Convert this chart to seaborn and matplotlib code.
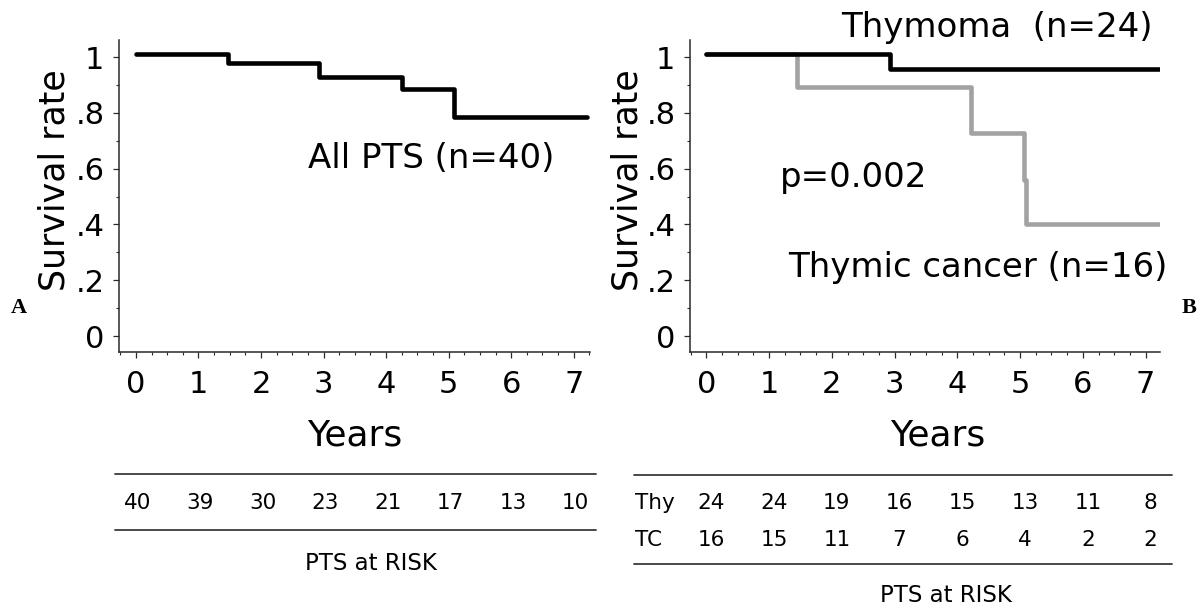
import numpy as np
import pandas as pd
import matplotlib
matplotlib.use("Agg")
import matplotlib.pyplot as plt
import seaborn as sns
from matplotlib.lines import Line2D
from matplotlib.transforms import blended_transform_factory
from matplotlib.ticker import FixedLocator, MultipleLocator

# ---------------- data ----------------
all_years = [0.0, 1.47, 2.93, 4.26, 5.09, 7.21]
all_surv = [1.01, 0.98, 0.93, 0.885, 0.785, 0.785]

thy_years = [0.0, 2.93, 7.21]
thy_surv = [1.01, 0.957, 0.957]

tc_years = [0.0, 1.45, 4.22, 5.07, 5.10, 7.21]
tc_surv = [1.01, 0.892, 0.727, 0.56, 0.40, 0.40]

risk_years = [0, 1, 2, 3, 4, 5, 6, 7]
risk_all = [40, 39, 30, 23, 21, 17, 13, 10]
risk_thy = [24, 24, 19, 16, 15, 13, 11, 8]
risk_tc = [16, 15, 11, 7, 6, 4, 2, 2]

x_ticks = [0, 1, 2, 3, 4, 5, 6, 7]
x_tick_labels = ["0", "1", "2", "3", "4", "5", "6", "7"]
y_ticks = [0, 0.2, 0.4, 0.6, 0.8, 1.0]
y_tick_labels = ["0", ".2", ".4", ".6", ".8", "1"]

# ---------------- style ----------------
sns.set_theme(style="ticks")
plt.rcParams["font.family"] = ["DejaVu Sans"]
plt.rcParams["text.color"] = "black"
plt.rcParams["axes.labelcolor"] = "black"
plt.rcParams["xtick.labelcolor"] = "black"
plt.rcParams["ytick.labelcolor"] = "black"

W, H = 1200, 607
fig = plt.figure(figsize=(W / 100, H / 100), dpi=100)

axA = fig.add_axes([119 / W, (H - 352) / H, 471 / W, 312 / H])
axB = fig.add_axes([690 / W, (H - 352) / H, 470 / W, 312 / H])

df_all = pd.DataFrame({"Years": all_years, "Survival": all_surv})
df_thy = pd.DataFrame({"Years": thy_years, "Survival": thy_surv})
df_tc = pd.DataFrame({"Years": tc_years, "Survival": tc_surv})

lw = 3.3
sns.lineplot(data=df_all, x="Years", y="Survival", ax=axA, color="black",
             linewidth=lw, drawstyle="steps-post", estimator=None, sort=False)
sns.lineplot(data=df_tc, x="Years", y="Survival", ax=axB, color="#a2a2a2",
             linewidth=lw, drawstyle="steps-post", estimator=None, sort=False)
sns.lineplot(data=df_thy, x="Years", y="Survival", ax=axB, color="black",
             linewidth=lw, drawstyle="steps-post", estimator=None, sort=False)

spine_col = "#2a2a2a"
for ax, xlim, xl_x, yl_x in [(axA, (-0.27, 7.26), 0.501, -0.138),
                             (axB, (-0.26, 7.23), 0.528, -0.132)]:
    ax.set_xlim(*xlim)
    ax.set_ylim(-0.057, 1.061)
    ax.xaxis.set_major_locator(FixedLocator(x_ticks))
    ax.set_xticklabels(x_tick_labels)
    ax.xaxis.set_minor_locator(MultipleLocator(0.25))
    ax.yaxis.set_major_locator(FixedLocator(y_ticks))
    ax.set_yticklabels(y_tick_labels)
    ax.yaxis.set_minor_locator(MultipleLocator(0.1))
    for s in ["top", "right"]:
        ax.spines[s].set_visible(False)
    for s in ["left", "bottom"]:
        ax.spines[s].set_color(spine_col)
        ax.spines[s].set_linewidth(1.1)
    ax.tick_params(axis="x", which="major", direction="out", length=4.5,
                   width=0.9, color=spine_col, labelcolor="black",
                   labelsize=22, pad=8.5)
    ax.tick_params(axis="y", which="major", direction="out", length=4.5,
                   width=0.9, color=spine_col, labelcolor="black",
                   labelsize=22, pad=6.0)
    ax.tick_params(which="minor", direction="out", length=2.2, width=0.8,
                   color=spine_col)
    ax.set_xlabel("Years", fontsize=26, color="black")
    ax.xaxis.set_label_coords(xl_x, -0.301)
    ax.xaxis.label.set_va("baseline")
    ax.set_ylabel("Survival rate", fontsize=25, color="black")
    ax.yaxis.set_label_coords(yl_x, 0.551)
    ax.yaxis.label.set_va("center")
    ax.yaxis.label.set_ha("center")
    ax.set_facecolor("white")

# annotations
axA.text(4.72, 0.602, "All PTS (n=40)", fontsize=24.5, ha="center",
         va="baseline", clip_on=False, color="black")
axB.text(4.63, 1.072, "Thymoma  (n=24)", fontsize=24.5, ha="center",
         va="baseline", clip_on=False, color="black")
axB.text(2.35, 0.534, "p=0.002", fontsize=24.5, ha="center", va="baseline",
         color="black")
axB.text(4.32, 0.211, "Thymic cancer (n=16)", fontsize=24.5, ha="center",
         va="baseline", clip_on=False, color="black")

# panel letters
fig.text(19 / W, 1 - 308 / H, "A", family="Liberation Serif",
         fontweight="bold", fontsize=16, ha="center", va="center",
         color="black")
fig.text(1189 / W, 1 - 308 / H, "B", family="Liberation Serif",
         fontweight="bold", fontsize=16, ha="center", va="center",
         color="black")

# ---------------- at-risk tables ----------------
tbl_col = "#3a3a3a"
for (x0, x1, y) in [(115, 596, 474), (115, 596, 530),
                    (634, 1172, 475), (634, 1172, 564)]:
    fig.add_artist(Line2D([x0 / W, x1 / W], [1 - y / H, 1 - y / H],
                          color=tbl_col, linewidth=1.3))

trA = blended_transform_factory(axA.transData, fig.transFigure)
trB = blended_transform_factory(axB.transData, fig.transFigure)
for yr, n in zip(risk_years, risk_all):
    axA.text(yr + 0.03, 1 - 503 / H, str(n), transform=trA, fontsize=15.5,
             ha="center", va="center", clip_on=False, color="black")
for yr, n in zip(risk_years, risk_thy):
    axB.text(yr + 0.08, 1 - 503 / H, str(n), transform=trB, fontsize=15.5,
             ha="center", va="center", clip_on=False, color="black")
for yr, n in zip(risk_years, risk_tc):
    axB.text(yr + 0.08, 1 - 540 / H, str(n), transform=trB, fontsize=15.5,
             ha="center", va="center", clip_on=False, color="black")
fig.text(635 / W, 1 - 503 / H, "Thy", fontsize=15.5, ha="left", va="center",
         color="black")
fig.text(635 / W, 1 - 540 / H, "TC", fontsize=15.5, ha="left", va="center",
         color="black")

fig.text(371 / W, 1 - 563 / H, "PTS at RISK", fontsize=16.5, ha="center",
         va="center", color="black")
fig.text(946 / W, 1 - 596 / H, "PTS at RISK", fontsize=16.5, ha="center",
         va="center", color="black")

fig.savefig("out.png", dpi=100, facecolor="white")
